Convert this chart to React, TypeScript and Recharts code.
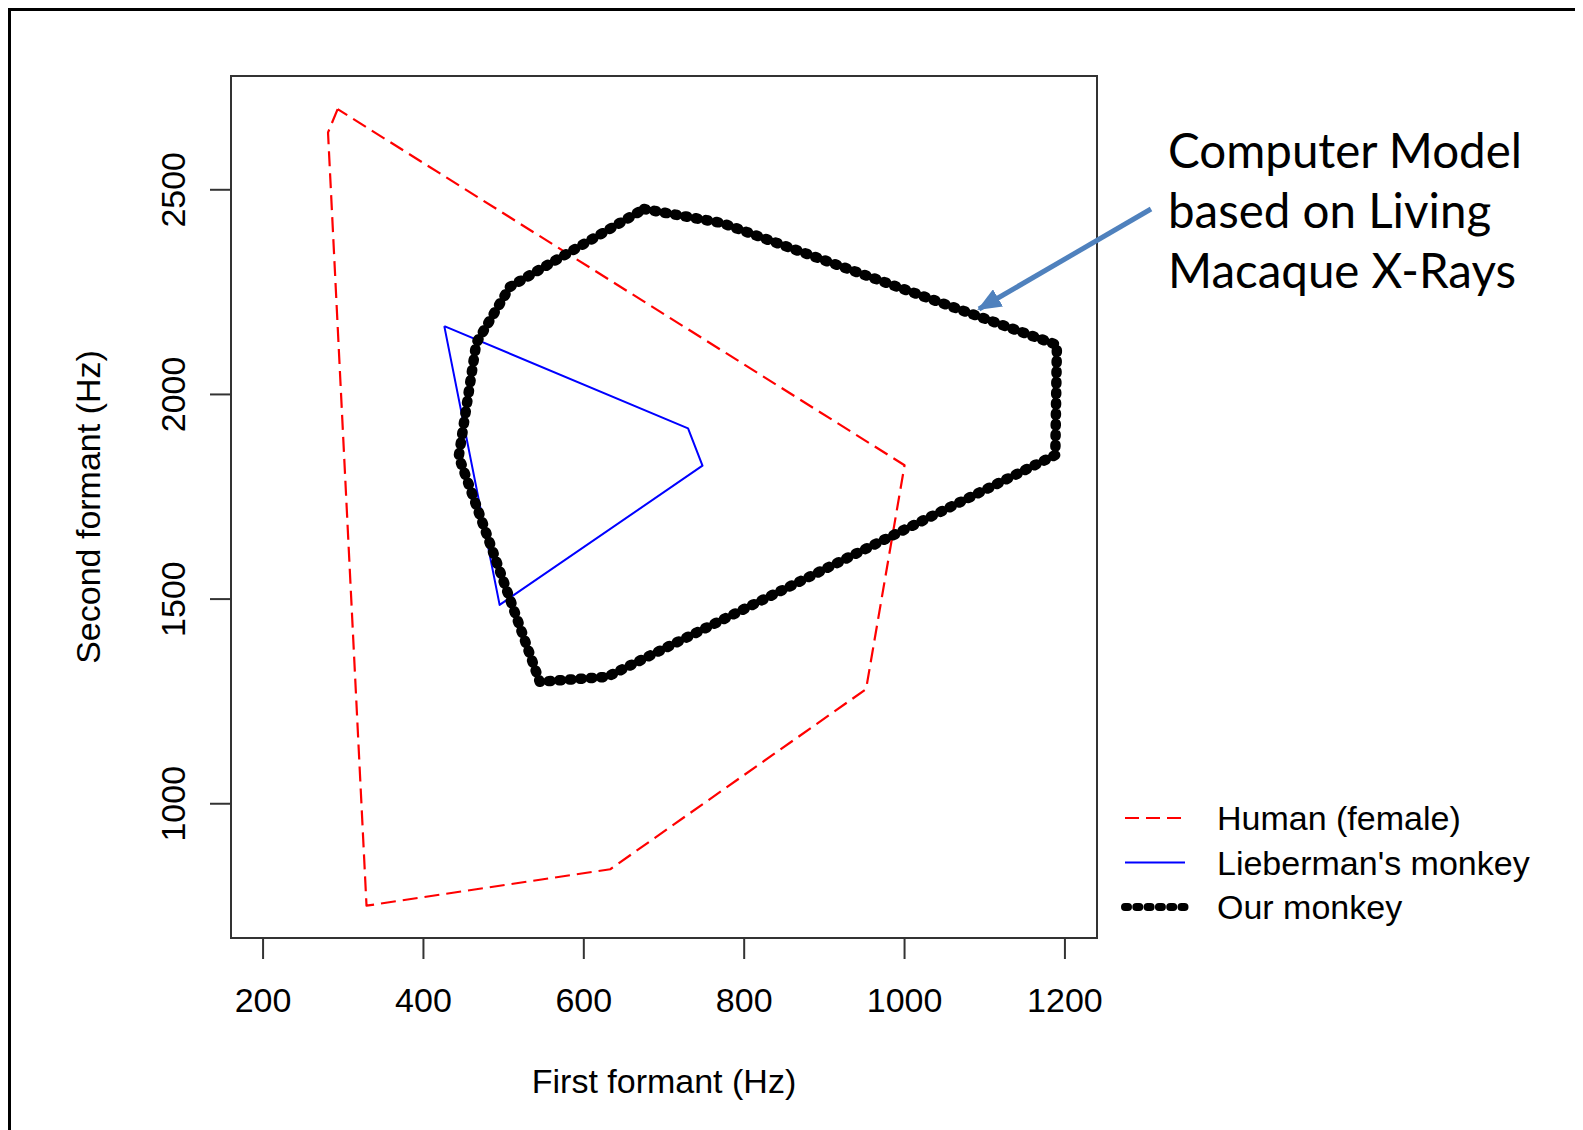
import React from 'react';
import { ScatterChart, Scatter, XAxis, YAxis, ReferenceArea, Label } from 'recharts';

// formant polygons, first formant (F1) and second formant (F2), Hz
const humanF1 = [293, 281, 329, 633, 952, 1000, 293];
const humanF2 = [2697, 2640, 751, 840, 1280, 1827, 2697];
const liebermanF1 = [426, 730, 748, 495, 426];
const liebermanF2 = [2167, 1917, 1826, 1486, 2167];
const ourF1 = [675, 772, 1190, 1188, 629, 545, 444, 466, 508, 675];
const ourF2 = [2453, 2419, 2121, 1852, 1310, 1298, 1848, 2126, 2263, 2453];

const xTicks = [200, 400, 600, 800, 1000, 1200];
const yTicks = [1000, 1500, 2000, 2500];
const seriesNames = ['Human (female)', "Lieberman's monkey", 'Our monkey'];
const noteLines = ['Computer Model', 'based on Living', 'Macaque X-Rays'];

const toPoints = (xs: number[], ys: number[]) => xs.map((x, i) => ({ x, y: ys[i] }));

const series = [
    { name: seriesNames[0], data: toPoints(humanF1, humanF2), stroke: '#ff0000', width: 2.2, dash: '15 7', cap: 'butt', legendWidth: 2, legendDash: '14 7' },
    { name: seriesNames[1], data: toPoints(liebermanF1, liebermanF2), stroke: '#0000ff', width: 2, dash: undefined, cap: 'butt', legendWidth: 2, legendDash: undefined },
    { name: seriesNames[2], data: toPoints(ourF1, ourF2), stroke: '#000000', width: 10.5, dash: '2 8.5', cap: 'round', legendWidth: 8, legendDash: '3 8.3' },
];

const W = 1575;
const H = 1122;
const rFont = '"Liberation Sans", Arial, sans-serif';
const rSize = 34;

const XTick = (props: any) => {
    const { x, y, payload } = props;
    return (
        <text x={x} y={y + 53} textAnchor="middle" fontSize={rSize} fontFamily={rFont} fill="#000">
            {payload.value}
        </text>
    );
};

const YTick = (props: any) => {
    const { x, y, payload } = props;
    const bx = x - 25;
    return (
        <text x={bx} y={y} transform={`rotate(-90, ${bx}, ${y})`} textAnchor="middle" fontSize={rSize} fontFamily={rFont} fill="#000">
            {payload.value}
        </text>
    );
};

const XTitle = (props: any) => {
    const vb = props.viewBox;
    return (
        <text x={vb.x + vb.width / 2} y={vb.y + 155} textAnchor="middle" fontSize={rSize} fontFamily={rFont} fill="#000">
            First formant (Hz)
        </text>
    );
};

const YTitle = (props: any) => {
    const vb = props.viewBox;
    const cx = vb.x - 31;
    const cy = vb.y + vb.height / 2;
    return (
        <text x={cx} y={cy} transform={`rotate(-90, ${cx}, ${cy})`} textAnchor="middle" fontSize={rSize} fontFamily={rFont} fill="#000">
            Second formant (Hz)
        </text>
    );
};

export default function App() {
    return (
        <div style={{ position: 'relative', width: W, height: H }}>
            <style>{'html,body{overflow:hidden}'}</style>
            <div
                style={{
                    position: 'absolute', left: 0, top: 0, width: W, height: H,
                    borderLeft: '3px solid #000', borderTop: '3px solid #000', boxSizing: 'border-box',
                }}
            />
            <ScatterChart width={W} height={H} margin={{ top: 68, right: 486, bottom: 92, left: 123 }}>
                <XAxis
                    type="number"
                    dataKey="x"
                    domain={[160, 1240]}
                    ticks={xTicks}
                    allowDataOverflow
                    height={100}
                    tickSize={21}
                    tickMargin={0}
                    axisLine={false}
                    tickLine={{ stroke: '#333', strokeWidth: 2 }}
                    tick={<XTick />}
                >
                    <Label content={<XTitle />} />
                </XAxis>
                <YAxis
                    type="number"
                    dataKey="y"
                    domain={[672, 2778]}
                    ticks={yTicks}
                    allowDataOverflow
                    width={100}
                    tickSize={21}
                    tickMargin={0}
                    axisLine={false}
                    tickLine={{ stroke: '#333', strokeWidth: 2 }}
                    tick={<YTick />}
                >
                    <Label content={<YTitle />} />
                </YAxis>
                <ReferenceArea x1={160} x2={1240} y1={672} y2={2778} fill="none" stroke="#333" strokeWidth={2} />
                {series.map((s) => (
                    <Scatter
                        key={s.name}
                        name={s.name}
                        data={s.data}
                        fill={s.stroke}
                        line={{
                            stroke: s.stroke,
                            strokeWidth: s.width,
                            strokeDasharray: s.dash,
                            strokeLinecap: s.cap,
                            strokeLinejoin: 'round',
                        }}
                        lineJointType="linear"
                        shape={() => <g />}
                        isAnimationActive={false}
                    />
                ))}
            </ScatterChart>
            <svg width={W} height={H} style={{ position: 'absolute', left: 0, top: 0, pointerEvents: 'none' }}>
                <defs>
                    <marker id="head" markerUnits="userSpaceOnUse" markerWidth="24" markerHeight="20" refX="22" refY="10" orient="auto">
                        <path d="M0,0 L24,10 L0,20 Z" fill="#4f81bd" />
                    </marker>
                </defs>
                {/* annotation */}
                {noteLines.map((t, i) => (
                    <text key={t} x={1160} y={160 + i * 60} fontSize={47.5} fontFamily="Lato, 'Open Sans', sans-serif" fill="#000">
                        {t}
                    </text>
                ))}
                <line x1={1143} y1={201} x2={971} y2={301} stroke="#4f81bd" strokeWidth={5} markerEnd="url(#head)" />
                {/* legend */}
                {series.map((s, i) => {
                    const y = 810 + i * 44.5;
                    return (
                        <g key={s.name}>
                            <line
                                x1={1117}
                                x2={1177}
                                y1={y}
                                y2={y}
                                stroke={s.stroke}
                                strokeWidth={s.legendWidth}
                                strokeDasharray={s.legendDash}
                                strokeLinecap={s.cap as any}
                            />
                            <text x={1209} y={y + 12} fontSize={rSize} fontFamily={rFont} fill="#000">
                                {s.name}
                            </text>
                        </g>
                    );
                })}
            </svg>
        </div>
    );
}
